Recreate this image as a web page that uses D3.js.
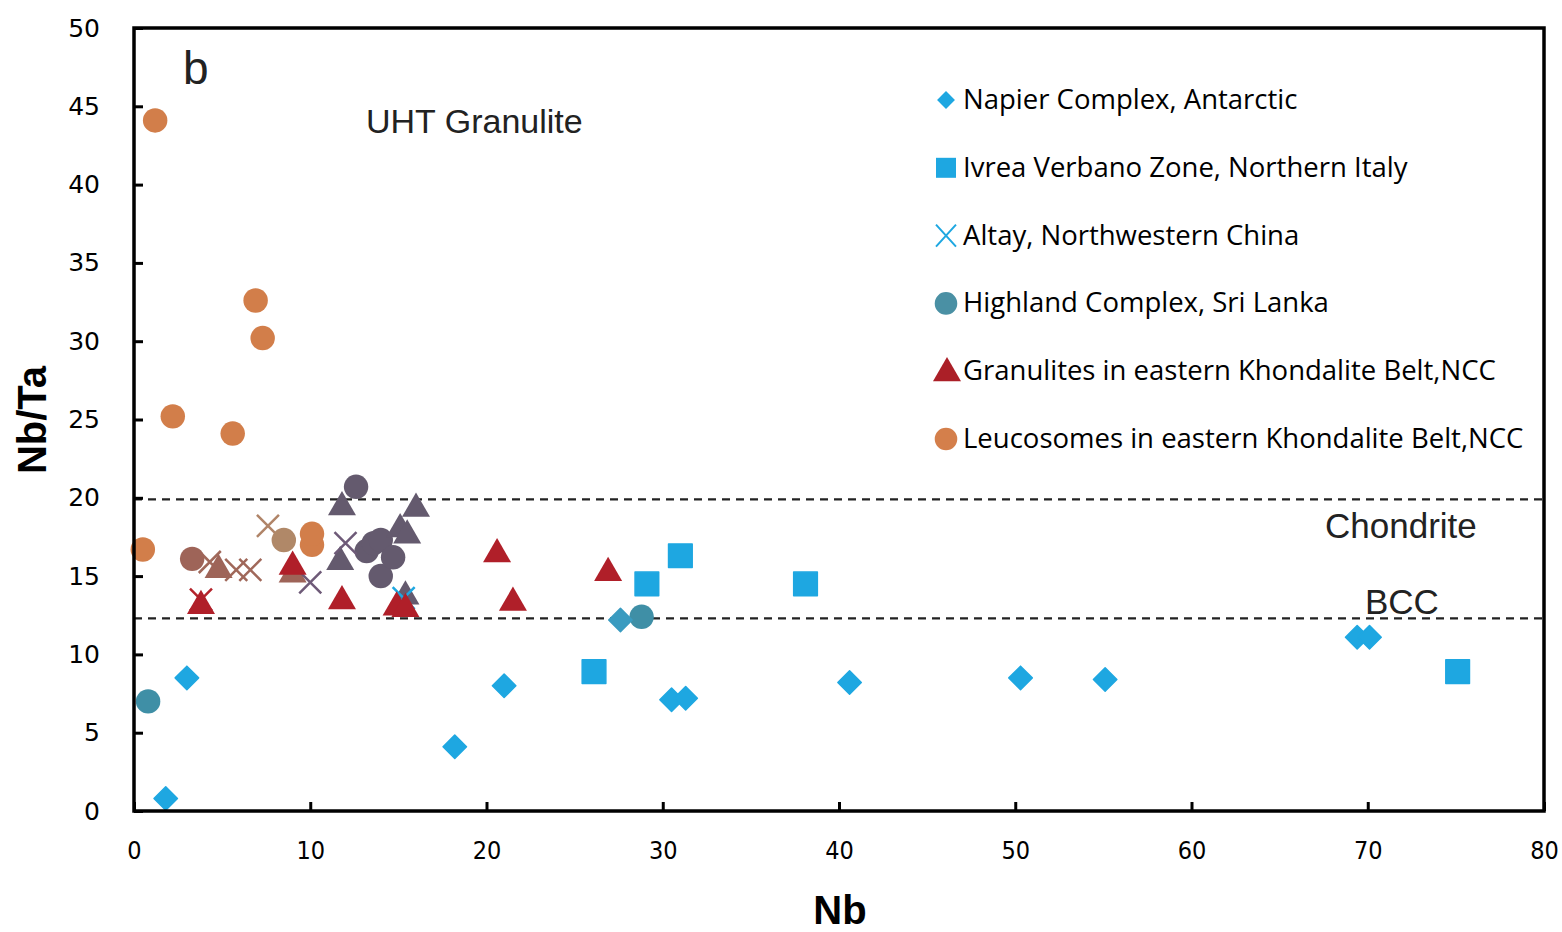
<!DOCTYPE html>
<html>
<head>
<meta charset="utf-8">
<script src="https://cdn.jsdelivr.net/npm/d3@7"></script>
<style>
  body { margin: 0; background: #fff; }
  svg { display: block; }
</style>
</head>
<body>
<svg id="drawing_region"></svg>
<script>
// series data: [Nb, Nb/Ta]
const napier = [[1.8,0.8],[3.0,8.5],[18.2,4.1],[21.0,8.0],[30.5,7.1],[31.3,7.2],[40.6,8.2],[50.3,8.5],[55.1,8.4],[69.4,11.1],[70.1,11.1]];
const napierTeal = [[27.6,12.2]];
const ivrea = [[26.1,8.9],[29.1,14.5],[31.0,16.3],[38.1,14.5],[75.1,8.9]];
const altay = [[15.3,13.6]];
const highland = [[0.8,7.0],[28.8,12.4]];
const granulites = [[3.8,13.1],[9.0,15.6],[11.8,13.4],[14.9,13.0],[15.4,12.9],[20.6,16.4],[21.5,13.3],[26.9,15.2]];
const granulitesX = [[3.8,13.5]];
const leucosomes = [[0.5,16.7],[1.2,44.1],[2.2,25.2],[5.6,24.1],[6.9,32.6],[7.3,30.2],[10.1,17.0],[10.1,17.7]];
// unlabelled groups plotted in other colours
const greyCircles = [[12.6,20.7],[13.2,16.6],[13.6,17.1],[14.0,17.3],[14.0,15.0],[14.7,16.2]];
const greyTriangles = [[11.8,19.4],[11.7,15.9],[15.1,18.0],[15.5,17.6],[16.0,19.3],[15.4,13.7]];
const greyX = [[12.0,17.1],[10.0,14.6]];
const brownCircles = [[3.3,16.1]];
const brownTriangles = [[4.8,15.4],[9.0,15.1]];
const brownX = [[4.3,15.9],[5.8,15.4],[6.6,15.4]];
const tanCircles = [[8.5,17.3]];
const tanX = [[7.6,18.2]];

const legendLabels = ["Napier Complex, Antarctic","Ivrea Verbano Zone, Northern Italy","Altay, Northwestern China","Highland Complex, Sri Lanka","Granulites in eastern Khondalite Belt,NCC","Leucosomes in eastern Khondalite Belt,NCC"];
const xTicks = [0,10,20,30,40,50,60,70,80];
const yTicks = [0,5,10,15,20,25,30,35,40,45,50];
const refLines = [{name:"Chondrite", value:19.9}, {name:"BCC", value:12.3}];

const config = {
  width: 1562, height: 932,
  margin: {top: 28, right: 18, bottom: 121, left: 134}
};

const svg = d3.select("#drawing_region")
  .attr("width", config.width)
  .attr("height", config.height);

const iw = config.width - config.margin.left - config.margin.right;
const ih = config.height - config.margin.top - config.margin.bottom;

const chart = svg.append("g")
  .attr("transform", `translate(${config.margin.left},${config.margin.top})`);

const xScale = d3.scaleLinear().domain([0, 80]).range([0, iw]);
const yScale = d3.scaleLinear().domain([0, 50]).range([ih, 0]);

// reference lines
chart.selectAll(".ref")
  .data(refLines)
  .join("line")
  .attr("x1", 0).attr("x2", iw)
  .attr("y1", d => yScale(d.value)).attr("y2", d => yScale(d.value))
  .attr("stroke", "#222").attr("stroke-width", 2.4)
  .attr("stroke-dasharray", "8,6");

// marker drawing
const shapes = {
  circle: () => d3.symbol(d3.symbolCircle, 470)(),
  square: () => d3.symbol(d3.symbolSquare, 560)(),
  diamond: () => d3.symbol(d3.symbolSquare, 275)(),
  triangle: () => d3.symbol(d3.symbolTriangle, 340)(),
  x: () => "M-11,-11L11,11M-11,11L11,-11"
};

function drawSeries(data, shape, color) {
  chart.append("g").selectAll("path")
    .data(data)
    .join("path")
    .attr("d", shapes[shape]())
    .attr("transform", d => `translate(${xScale(d[0])},${yScale(d[1])})` + (shape === "diamond" ? " rotate(45)" : ""))
    .attr("fill", shape === "x" ? "none" : color)
    .attr("stroke", shape === "x" ? color : (shape === "square" || shape === "diamond" ? color : "none"))
    .attr("stroke-linejoin", "round")
    .attr("stroke-width", shape === "x" ? 2.5 : 1.5);
}

drawSeries(brownX, "x", "#a0685a");
drawSeries(tanX, "x", "#b08468");
drawSeries(granulitesX, "x", "#b4232b");
drawSeries(brownCircles, "circle", "#9e6458");
drawSeries(brownTriangles, "triangle", "#9e6458");
drawSeries(tanCircles, "circle", "#b08868");
drawSeries(leucosomes, "circle", "#d27e4a");
drawSeries(greyCircles, "circle", "#645a6e");
drawSeries(greyTriangles, "triangle", "#645a6e");
drawSeries(greyX, "x", "#6e5a78");
drawSeries(highland, "circle", "#3f8fa6");
drawSeries(napierTeal, "diamond", "#3a9bc0");
drawSeries(napier, "diamond", "#1ea7e1");
drawSeries(ivrea, "square", "#1ea7e1");
drawSeries(altay, "x", "#1ea7e1");
drawSeries(granulites, "triangle", "#b01f29");

// frame
chart.append("rect")
  .attr("x", 0).attr("y", 0).attr("width", iw).attr("height", ih)
  .attr("fill", "none").attr("stroke", "#000").attr("stroke-width", 3.5);

// axes with inward ticks
const xAxis = chart.append("g")
  .attr("transform", `translate(0,${ih})`)
  .call(d3.axisBottom(xScale).tickValues(xTicks).tickSizeInner(-9).tickSizeOuter(0).tickPadding(30));
const yAxis = chart.append("g")
  .call(d3.axisLeft(yScale).tickValues(yTicks).tickSizeInner(-9).tickSizeOuter(0).tickPadding(34));

[xAxis, yAxis].forEach(a => {
  a.select(".domain").remove();
  a.selectAll(".tick line").attr("stroke", "#000").attr("stroke-width", 3);
});
xAxis.selectAll("text")
  .style("font-family", "'DejaVu Sans Condensed', 'Liberation Sans', sans-serif")
  .style("font-size", "25px").attr("fill", "#000");
yAxis.selectAll("text")
  .style("font-family", "'DejaVu Sans', sans-serif")
  .style("font-size", "25px").attr("fill", "#000");

// axis titles
svg.append("text")
  .attr("x", 840).attr("y", 924)
  .attr("text-anchor", "middle")
  .style("font-family", "'Liberation Sans', sans-serif")
  .style("font-weight", "bold").style("font-size", "40px")
  .text("Nb");
svg.append("text")
  .attr("transform", "translate(46,420) rotate(-90)")
  .attr("text-anchor", "middle")
  .style("font-family", "'Liberation Sans', sans-serif")
  .style("font-weight", "bold").style("font-size", "40px")
  .text("Nb/Ta");

// annotations
const note = (x, y, size, t) => svg.append("text")
  .attr("x", x).attr("y", y)
  .style("font-family", "'Liberation Sans', Arial, sans-serif")
  .style("font-size", size + "px").attr("fill", "#222")
  .text(t);
note(183, 84, 46, "b");
note(366, 133, 34, "UHT Granulite");
note(1325, 538, 35, "Chondrite");
note(1365, 614, 35, "BCC");

// legend
const legendShapes = [["diamond","#1ea7e1"],["square","#1ea7e1"],["x","#1ea7e1"],["circle","#4a90a4"],["triangle","#ab1f27"],["circle","#d47f4b"]];
const legend = svg.append("g");
const rows = legend.selectAll("g")
  .data(legendLabels)
  .join("g")
  .attr("transform", (d, i) => `translate(946,${100 + i * 67.8})`);
rows.append("path")
  .attr("d", (d, i) => {
    const s = legendShapes[i][0];
    if (s === "x") return "M-10,-11L10,11M-10,11L10,-11";
    if (s === "diamond") return d3.symbol(d3.symbolSquare, 160)();
    if (s === "square") return d3.symbol(d3.symbolSquare, 400)();
    if (s === "triangle") return d3.symbol(d3.symbolTriangle, 340)();
    return d3.symbol(d3.symbolCircle, 400)();
  })
  .attr("transform", (d, i) => legendShapes[i][0] === "diamond" ? "rotate(45)" : (legendShapes[i][0] === "triangle" ? "translate(1,2)" : ""))
  .attr("fill", (d, i) => legendShapes[i][0] === "x" ? "none" : legendShapes[i][1])
  .attr("stroke", (d, i) => legendShapes[i][0] === "x" ? legendShapes[i][1] : "none")
  .attr("stroke-width", 2);
rows.append("text")
  .attr("x", 17).attr("y", 9)
  .style("font-family", "'Open Sans', sans-serif")
  .style("font-size", "27.5px").attr("fill", "#000")
  .text(d => d);
</script>
</body>
</html>
